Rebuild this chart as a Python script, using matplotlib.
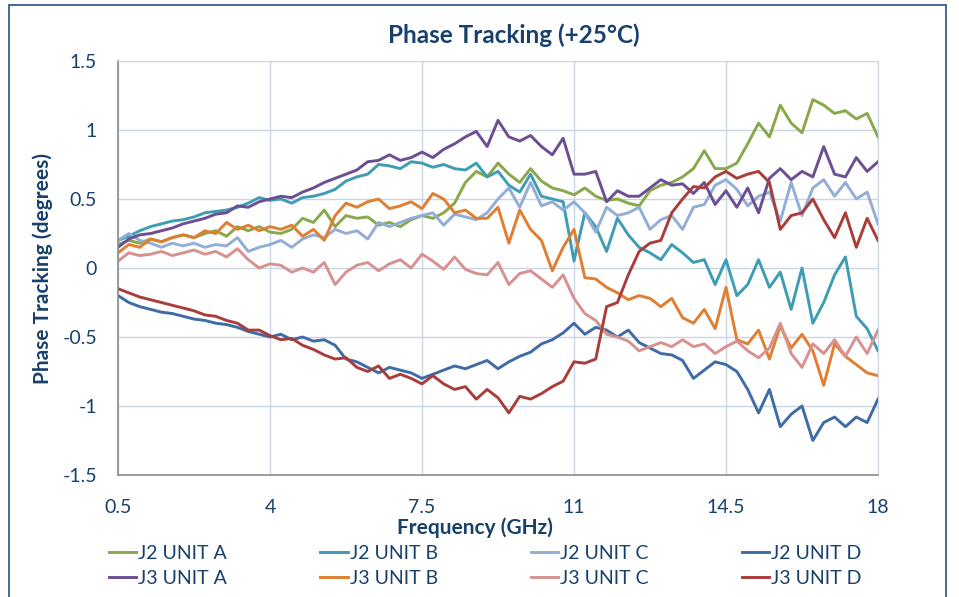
import numpy as np
import matplotlib
matplotlib.use("Agg")
import matplotlib.pyplot as plt
from matplotlib.patches import Rectangle

# ---- data ----
freq = np.round(np.arange(0.5, 18.0001, 0.25), 2)

j2_a = [0.17,0.20,0.18,0.21,0.19,0.22,0.24,0.22,0.25,0.27,
        0.23,0.30,0.27,0.30,0.26,0.25,0.28,0.36,0.33,0.42,
        0.30,0.38,0.36,0.37,0.31,0.33,0.30,0.35,0.38,0.36,
        0.40,0.47,0.62,0.70,0.66,0.76,0.68,0.62,0.72,0.63,
        0.58,0.56,0.53,0.58,0.52,0.49,0.50,0.47,0.45,0.56,
        0.60,0.62,0.66,0.72,0.85,0.72,0.72,0.76,0.90,1.05,
        0.95,1.18,1.05,0.98,1.22,1.18,1.12,1.14,1.08,1.12,
        0.95]
j2_b = [0.20,0.23,0.27,0.30,0.32,0.34,0.35,0.37,0.40,0.41,
        0.42,0.44,0.47,0.51,0.49,0.50,0.47,0.51,0.52,0.54,
        0.57,0.63,0.66,0.68,0.75,0.74,0.72,0.77,0.76,0.73,
        0.75,0.72,0.71,0.76,0.66,0.70,0.60,0.55,0.68,0.52,
        0.50,0.48,0.05,0.40,0.30,0.12,0.36,0.24,0.15,0.11,
        0.06,0.17,0.11,0.04,0.06,-0.12,0.06,-0.20,-0.12,0.06,
        -0.14,-0.03,-0.30,0.00,-0.40,-0.25,-0.05,0.08,-0.35,-0.44,
        -0.60]
j2_c = [0.20,0.25,0.20,0.18,0.15,0.18,0.16,0.18,0.15,0.17,
        0.16,0.22,0.12,0.15,0.17,0.20,0.15,0.21,0.24,0.22,
        0.28,0.25,0.27,0.21,0.33,0.30,0.33,0.36,0.38,0.40,
        0.31,0.39,0.37,0.35,0.40,0.50,0.58,0.44,0.62,0.45,
        0.48,0.42,0.48,0.40,0.26,0.44,0.38,0.40,0.44,0.28,
        0.35,0.38,0.28,0.44,0.46,0.60,0.64,0.57,0.45,0.52,
        0.55,0.34,0.62,0.38,0.58,0.64,0.52,0.62,0.50,0.55,
        0.32]
j2_d = [-0.20,-0.25,-0.28,-0.30,-0.32,-0.33,-0.35,-0.37,-0.38,-0.40,
        -0.41,-0.43,-0.46,-0.48,-0.50,-0.48,-0.52,-0.50,-0.53,-0.52,
        -0.56,-0.66,-0.68,-0.72,-0.76,-0.72,-0.74,-0.76,-0.80,-0.77,
        -0.74,-0.71,-0.73,-0.70,-0.67,-0.73,-0.68,-0.64,-0.61,-0.55,
        -0.52,-0.47,-0.40,-0.48,-0.43,-0.45,-0.50,-0.45,-0.54,-0.58,
        -0.62,-0.63,-0.67,-0.80,-0.74,-0.68,-0.70,-0.75,-0.88,-1.05,
        -0.88,-1.15,-1.06,-1.00,-1.25,-1.12,-1.08,-1.15,-1.08,-1.12,
        -0.95]
j3_a = [0.15,0.21,0.24,0.25,0.27,0.29,0.32,0.34,0.36,0.39,
        0.40,0.45,0.44,0.48,0.50,0.52,0.51,0.55,0.58,0.62,
        0.65,0.68,0.71,0.77,0.78,0.82,0.78,0.80,0.84,0.80,
        0.86,0.90,0.95,0.99,0.88,1.07,0.95,0.92,0.96,0.88,
        0.82,0.94,0.68,0.68,0.70,0.48,0.56,0.52,0.52,0.58,
        0.64,0.60,0.61,0.54,0.62,0.46,0.56,0.44,0.58,0.40,
        0.65,0.72,0.64,0.70,0.66,0.88,0.68,0.66,0.80,0.70,
        0.77]
j3_b = [0.11,0.17,0.15,0.21,0.19,0.22,0.24,0.22,0.27,0.25,
        0.33,0.28,0.31,0.27,0.30,0.28,0.31,0.23,0.28,0.20,
        0.38,0.47,0.44,0.48,0.50,0.43,0.45,0.48,0.43,0.54,
        0.50,0.40,0.42,0.36,0.36,0.44,0.18,0.42,0.28,0.20,
        -0.02,0.15,0.28,-0.07,-0.08,-0.14,-0.18,-0.23,-0.20,-0.22,
        -0.28,-0.22,-0.36,-0.40,-0.30,-0.44,-0.14,-0.52,-0.55,-0.45,
        -0.66,-0.42,-0.58,-0.48,-0.60,-0.85,-0.55,-0.64,-0.70,-0.76,
        -0.78]
j3_c = [0.05,0.11,0.09,0.10,0.12,0.09,0.11,0.13,0.10,0.12,
        0.08,0.14,0.06,0.00,0.03,0.02,-0.03,0.00,-0.03,0.04,
        -0.12,-0.03,0.02,0.04,-0.02,0.03,0.06,0.00,0.10,0.05,
        -0.01,0.08,-0.01,-0.04,-0.05,0.04,-0.12,-0.04,-0.02,-0.08,
        -0.14,-0.05,-0.22,-0.33,-0.38,-0.48,-0.50,-0.53,-0.60,-0.57,
        -0.54,-0.57,-0.52,-0.57,-0.55,-0.62,-0.57,-0.53,-0.60,-0.65,
        -0.58,-0.40,-0.62,-0.72,-0.55,-0.62,-0.52,-0.64,-0.50,-0.62,
        -0.45]
j3_d = [-0.15,-0.18,-0.21,-0.23,-0.25,-0.27,-0.29,-0.31,-0.34,-0.35,
        -0.38,-0.40,-0.45,-0.45,-0.49,-0.52,-0.51,-0.56,-0.59,-0.63,
        -0.66,-0.65,-0.72,-0.75,-0.71,-0.80,-0.77,-0.80,-0.84,-0.78,
        -0.84,-0.88,-0.86,-0.95,-0.88,-0.94,-1.05,-0.93,-0.95,-0.91,
        -0.86,-0.82,-0.68,-0.69,-0.66,-0.28,-0.25,-0.05,0.12,0.18,
        0.20,0.40,0.50,0.59,0.58,0.66,0.70,0.65,0.68,0.70,
        0.62,0.28,0.38,0.40,0.50,0.35,0.22,0.40,0.15,0.36,
        0.20]

series_names = ["J2 UNIT A", "J2 UNIT B", "J2 UNIT C", "J2 UNIT D",
                "J3 UNIT A", "J3 UNIT B", "J3 UNIT C", "J3 UNIT D"]
series_values = [j2_a, j2_b, j2_c, j2_d, j3_a, j3_b, j3_c, j3_d]
series_colors = ["#88A84A", "#3E9DB3", "#93AED6", "#3F6CA6",
                 "#6C4E93", "#E07E31", "#D69190", "#A93D3A"]

x_ticks = [0.5, 4, 7.5, 11, 14.5, 18]
x_tick_labels = ["0.5", "4", "7.5", "11", "14.5", "18"]
y_ticks = [-1.5, -1, -0.5, 0, 0.5, 1, 1.5]
y_tick_labels = ["-1.5", "-1", "-0.5", "0", "0.5", "1", "1.5"]

for v in series_values:
    assert len(v) == len(freq)

# ---- style ----
plt.rcParams['font.family'] = ['Lato', 'DejaVu Sans']
navy = "#17406D"
grid_c = "#C9D6E3"

fig = plt.figure(figsize=(9.59, 5.97), dpi=100)
ax = fig.add_axes([118/959, 1-475/597, (878-118)/959, (475-61)/597])

lines = {}
for name, vals, col in zip(series_names, series_values, series_colors):
    ln, = ax.plot(freq, vals, color=col, lw=2.1, solid_joinstyle='round', label=name)
    lines[name] = ln

ax.set_xlim(0.5, 18)
ax.set_ylim(-1.5, 1.5)
ax.set_xticks(x_ticks)
ax.set_xticklabels(x_tick_labels)
ax.set_yticks(y_ticks)
ax.set_yticklabels(y_tick_labels)
ax.grid(True, color=grid_c, lw=1.0)
ax.set_axisbelow(True)
ax.tick_params(axis='both', length=0, labelsize=14, colors=navy)
ax.tick_params(axis='x', pad=17)
ax.tick_params(axis='y', pad=15)
for s in ['top', 'right']:
    ax.spines[s].set_color(grid_c)
for s in ['left', 'bottom']:
    ax.spines[s].set_color("#8C8C8C")
    ax.spines[s].set_linewidth(1.2)

fig.text(514/959, 1-35/597, "Phase Tracking (+25°C)", ha='center', va='center',
         fontsize=17.5, fontweight='bold', color=navy)
fig.text(475/959, 1-528/597, "Frequency (GHz)", ha='center', va='center',
         fontsize=15, fontweight='bold', color=navy)
fig.text(43/959, 1-269/597, "Phase Tracking (degrees)", ha='center', va='center',
         rotation=90, fontsize=15, fontweight='bold', color=navy)

order = ["J2 UNIT A", "J3 UNIT A", "J2 UNIT B", "J3 UNIT B",
         "J2 UNIT C", "J3 UNIT C", "J2 UNIT D", "J3 UNIT D"]
leg = fig.legend([lines[n] for n in order], order, ncol=4, loc='upper left',
                 bbox_to_anchor=(109/959, 1-545/597), frameon=False,
                 fontsize=14, handlelength=1.4, handletextpad=0.1,
                 columnspacing=4.8, labelspacing=0.42, borderaxespad=0,
                 borderpad=0)
for t in leg.get_texts():
    t.set_color(navy)

fig.patches.append(Rectangle((9/959, -0.05), (946-9)/959, 1.05-5/597,
                             transform=fig.transFigure, fill=False,
                             edgecolor="#2E5F8F", lw=1.3))

fig.savefig("out.png", dpi=100)
